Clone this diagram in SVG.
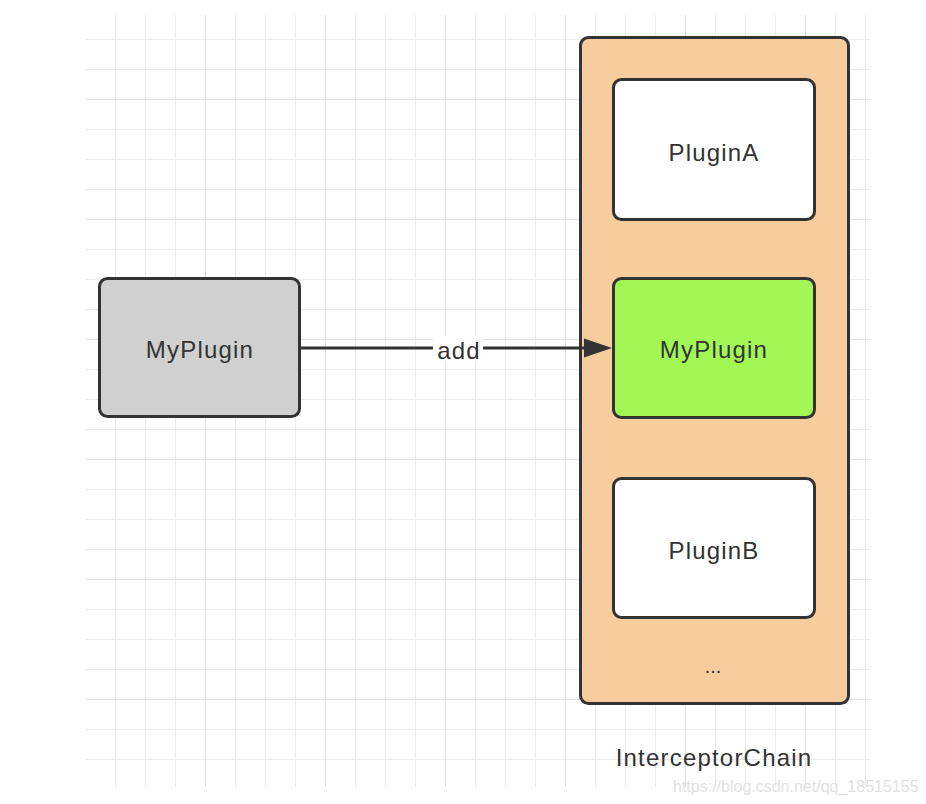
<svg xmlns="http://www.w3.org/2000/svg" width="926" height="804" viewBox="0 0 926 804">
<defs>
<pattern id="minor" x="85" y="9" width="30" height="30" patternUnits="userSpaceOnUse">
<path d="M0 0V30M0 0H30" fill="none" stroke="#ececec" stroke-width="2"/>
</pattern>
<pattern id="major" x="85" y="99" width="120" height="120" patternUnits="userSpaceOnUse">
<path d="M0 0V120M0 0H120" fill="none" stroke="#e2e2e2" stroke-width="2"/>
</pattern>
</defs>
<style>
.box{stroke:#333;stroke-width:3}
.t{font-family:"Liberation Sans",Arial,sans-serif;font-size:24px;letter-spacing:1.2px;fill:#333;text-anchor:middle;dominant-baseline:central}
</style>
<rect width="926" height="804" fill="#fff"/>
<rect x="86" y="15" width="784" height="772" fill="url(#minor)"/>
<rect x="86" y="15" width="784" height="772" fill="url(#major)"/>
<g id="InterceptorChain">
<rect class="box" x="580.5" y="37.5" width="268" height="666" rx="8" fill="#f7cd9e"/>
<text class="t" x="713" y="666" style="font-size:20px;letter-spacing:0">...</text>
<text class="t" x="714" y="757">InterceptorChain</text>
</g>
<g id="PluginA">
<rect class="box" x="613.5" y="79.5" width="201" height="140" rx="8" fill="#fff"/>
<text class="t" x="714" y="152">PluginA</text>
</g>
<g id="MyPluginChain">
<rect class="box" x="613.5" y="278.5" width="201" height="139" rx="8" fill="#a3f755"/>
<text class="t" x="714" y="349">MyPlugin</text>
</g>
<g id="PluginB">
<rect class="box" x="613.5" y="478.5" width="201" height="139" rx="8" fill="#fff"/>
<text class="t" x="714" y="550">PluginB</text>
</g>
<g id="MyPlugin">
<rect class="box" x="99.5" y="278.5" width="200" height="138" rx="8" fill="#d0d0d0"/>
<text class="t" x="200" y="349">MyPlugin</text>
</g>
<g id="connectors">
<path d="M301 348H590" stroke="#333" stroke-width="3" fill="none"/>
<path d="M584 338.5L612 348L584 357.5z" fill="#333"/>
<rect x="433" y="336" width="50" height="26" fill="#fff"/>
<text class="t" x="459" y="350">add</text>
</g>
<text x="673" y="792" style="font-family:'Liberation Sans',Arial,sans-serif;font-size:16px;fill:#e2e2e2">https://blog.csdn.net/qq_18515155</text>
</svg>
